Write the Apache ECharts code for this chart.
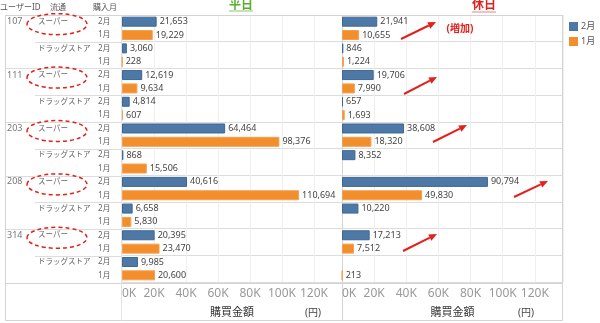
<!DOCTYPE html>
<html>
<head>
<meta charset="utf-8">
<script src="https://cdn.jsdelivr.net/npm/echarts@6/dist/echarts.min.js"></script>
<style>html,body{margin:0;padding:0;background:#fff}#c{width:600px;height:323px}</style>
</head>
<body>
<div id="c"></div>
<script>
// ---- data ----
const users = ['107', '111', '203', '208', '314'];
const stores = ['スーパー', 'ドラッグストア'];
const months = ['2月', '1月'];
// order: user x store  (107 スーパー, 107 ドラッグストア, 111 スーパー, ...)
const weekdayFeb = [21653, 3060, 12619, 4814, 64464, 868, 40616, 6658, 20395, 9985];
const weekdayJan = [19229, 228, 9634, 607, 98376, 15506, 110694, 5830, 23470, 20600];
const holidayFeb = [21941, 846, 19706, 657, 38608, 8352, 90794, 10220, 17213, null];
const holidayJan = [10655, 1224, 7990, 1693, 18320, null, 49830, null, 7512, 213];
const panelTitles = ['平日', '休日'];
const headerTexts = ['ユーザーID', '流通', '購入月'];
const axisTitle = '購買金額';
const axisUnit = '(円)';
const noteText = '(増加)';

// ---- build rows ----
const rows = [];
users.forEach((u, ui) => stores.forEach((s, si) => months.forEach((m, mi) => {
  rows.push({ key: u + '|' + s + '|' + m, u, s, m, ui, si, mi, g: ui * stores.length + si });
})));
const rowKeys = rows.map(r => r.key);
const userCol = rows.map(r => (r.si === 0 && r.mi === 0) ? r.u : '');
const storeCol = rows.map(r => r.mi === 0 ? r.s : '');
const monthCol = rows.map(r => r.m);

function seriesData(feb, jan, month) {
  return rows.map(r => r.m !== month ? null : (month === '2月' ? feb[r.g] : jan[r.g]));
}

const BLUE = '#4e79a7', ORANGE = '#f28e2b', RED = '#e3211c';
const FONT = '"Noto Sans", "Noto Sans CJK JP", sans-serif';
const TOP = 15, BOT = 283, H = BOT - TOP;

const chart = echarts.init(document.getElementById('c'), null, { renderer: 'canvas' });

function catAxis(grid, splitFn, extra) {
  return Object.assign({
    type: 'category', gridIndex: grid, data: rowKeys, inverse: true, position: 'left',
    axisLine: { show: false }, axisTick: { show: false },
    axisLabel: { show: false },
    splitLine: splitFn ? { show: true, interval: splitFn, lineStyle: { color: '#dcdcdc', width: 1 } } : { show: false }
  }, extra || {});
}
function hiddenVal(grid) {
  return { type: 'value', gridIndex: grid, show: false, min: 0, max: 1, splitLine: { show: false } };
}
function valAxis(grid) {
  return {
    type: 'value', gridIndex: grid, min: 0, max: 137500, interval: 20000,
    axisLine: { show: false }, axisTick: { show: false },
    splitLine: { show: true, lineStyle: { color: '#efefef', width: 1 } },
    axisLabel: {
      formatter: v => (v / 1000) + 'K', color: '#999', fontSize: 12, margin: 6,
      showMaxLabel: false, alignMinLabel: 'left'
    },
    name: axisTitle, nameLocation: 'middle', nameGap: 25,
    nameTextStyle: { fontSize: 11, color: '#333' }
  };
}
const labelStyle = {
  show: true, position: 'right', distance: 3, fontSize: 9, color: '#444',
  formatter: p => p.value == null ? '' : Number(p.value).toLocaleString('en-US')
};
function bar(name, data, grid, color, border) {
  return {
    type: 'bar', name, data, xAxisIndex: grid, yAxisIndex: grid,
    barWidth: 10, barGap: '-100%', itemStyle: { color, borderColor: border, borderWidth: 1 },
    label: labelStyle, emphasis: { disabled: true }, animation: false
  };
}
function labelAxis(data, margin, color, size) {
  return catAxis(2, null, {
    position: 'left', offset: 0,
    axisLabel: {
      show: true, interval: 0, align: 'left', margin, color, fontSize: size,
      formatter: (v, i) => data[i]
    }
  });
}

chart.setOption({
  animation: false,
  textStyle: { fontFamily: FONT },
  legend: {
    data: months, orient: 'vertical', left: 569, top: 22, itemWidth: 9, itemHeight: 9, itemGap: 6,
    icon: 'rect', textStyle: { fontSize: 9, color: '#555', padding: [0, 0, 0, -2] }, selectedMode: false,
    itemStyle: { borderWidth: 0 }, padding: 0
  },
  grid: [
    { left: 5, top: TOP, width: 30, height: H, containLabel: false },
    { left: 35, top: TOP, width: 87, height: H, containLabel: false },
    { left: 122, top: TOP, width: 220, height: H, containLabel: false },
    { left: 342, top: TOP, width: 221, height: H, containLabel: false }
  ],
  xAxis: [hiddenVal(0), hiddenVal(1), valAxis(2), valAxis(3)],
  yAxis: [
    catAxis(0, i => i % 4 === 0),
    catAxis(1, i => i % 2 === 0),
    catAxis(2, i => i % 2 === 0),
    catAxis(3, i => i % 2 === 0),
    labelAxis(userCol, 115, '#777', 9),
    labelAxis(storeCol, 84, '#666', 7.5),
    labelAxis(monthCol, 24, '#666', 8)
  ],
  series: [
    bar('2月', seriesData(weekdayFeb, weekdayJan, '2月'), 2, BLUE, '#3d6795'),
    bar('1月', seriesData(weekdayFeb, weekdayJan, '1月'), 2, ORANGE, '#f5a050'),
    bar('2月', seriesData(holidayFeb, holidayJan, '2月'), 3, BLUE, '#3d6795'),
    bar('1月', seriesData(holidayFeb, holidayJan, '1月'), 3, ORANGE, '#f5a050')
  ]
});

// ---- annotations ----
function arrow(x1, y1, x2, y2) {
  const a = Math.atan2(y2 - y1, x2 - x1), L = 8, W = 3.5;
  const bx = x2 - L * Math.cos(a), by = y2 - L * Math.sin(a);
  const px = -Math.sin(a) * W, py = Math.cos(a) * W;
  return [
    { type: 'line', shape: { x1, y1, x2: bx, y2: by }, style: { stroke: RED, lineWidth: 2 }, silent: true },
    { type: 'polygon', shape: { points: [[x2, y2], [bx + px, by + py], [bx - px, by - py]] }, style: { fill: RED }, silent: true }
  ];
}
const rowY = i => chart.convertToPixel({ yAxisIndex: 2 }, rowKeys[i]);
const g = [];
// frame
g.push({ type: 'rect', shape: { x: 5.5, y: 15.5, width: 557, height: 305 }, style: { fill: 'none', stroke: '#d4d4d4', lineWidth: 1 }, silent: true });
g.push({ type: 'line', shape: { x1: 5, y1: 283.5, x2: 563, y2: 283.5 }, style: { stroke: '#d4d4d4', lineWidth: 1 }, silent: true });
g.push({ type: 'line', shape: { x1: 121.5, y1: 15, x2: 121.5, y2: 321 }, style: { stroke: '#e2e2e2', lineWidth: 1 }, silent: true });
g.push({ type: 'line', shape: { x1: 342.5, y1: 15, x2: 342.5, y2: 321 }, style: { stroke: '#d4d4d4', lineWidth: 1 }, silent: true });
// headers
[[0, headerTexts[0]], [50, headerTexts[1]], [93, headerTexts[2]]].forEach(([x, t]) =>
  g.push({ type: 'text', left: x, top: 4, style: { text: t, fontSize: 8, fill: '#555', fontFamily: FONT }, silent: true }));
// panel titles
g.push({ type: 'rect', shape: { x: 229, y: 10, width: 24, height: 2 }, style: { fill: '#c6e3b3' }, silent: true });
g.push({ type: 'text', style: { text: panelTitles[0], x: 241, y: 6, align: 'center', verticalAlign: 'middle', fontSize: 12, fontWeight: 'bold', fill: '#5aad2c', fontFamily: FONT }, silent: true });
g.push({ type: 'rect', shape: { x: 472, y: 11, width: 24, height: 2 }, style: { fill: '#f6c0c0' }, silent: true });
g.push({ type: 'text', style: { text: panelTitles[1], x: 484, y: 6, align: 'center', verticalAlign: 'middle', fontSize: 12, fontWeight: 'bold', fill: RED, fontFamily: FONT }, silent: true });
// unit
[313, 526].forEach(x => g.push({ type: 'text', style: { text: axisUnit, x, y: 313, align: 'center', verticalAlign: 'middle', fontSize: 10, fill: '#444', fontFamily: FONT }, silent: true }));
// increase note
g.push({ type: 'text', style: { text: noteText, x: 460, y: 29, align: 'center', verticalAlign: 'middle', fontSize: 10, fontWeight: 'bold', fill: RED, fontFamily: FONT }, silent: true });
// arrows
[[401, 39, 436, 22], [404, 94, 437, 77], [433, 142, 467, 125], [514, 197, 548, 181], [403, 251, 437, 234]]
  .forEach(a => g.push(...arrow(...a)));
// dashed ellipses around スーパー
rows.forEach((r, i) => {
  if (r.si === 0 && r.mi === 0) {
    g.push({ type: 'ellipse', shape: { cx: 57, cy: rowY(i) + 2.5, rx: 30, ry: 10.5 },
      style: { fill: 'none', stroke: RED, lineWidth: 1.5, lineDash: [4, 3] }, silent: true });
  }
});
chart.setOption({ graphic: { elements: g } });
</script>
</body>
</html>
